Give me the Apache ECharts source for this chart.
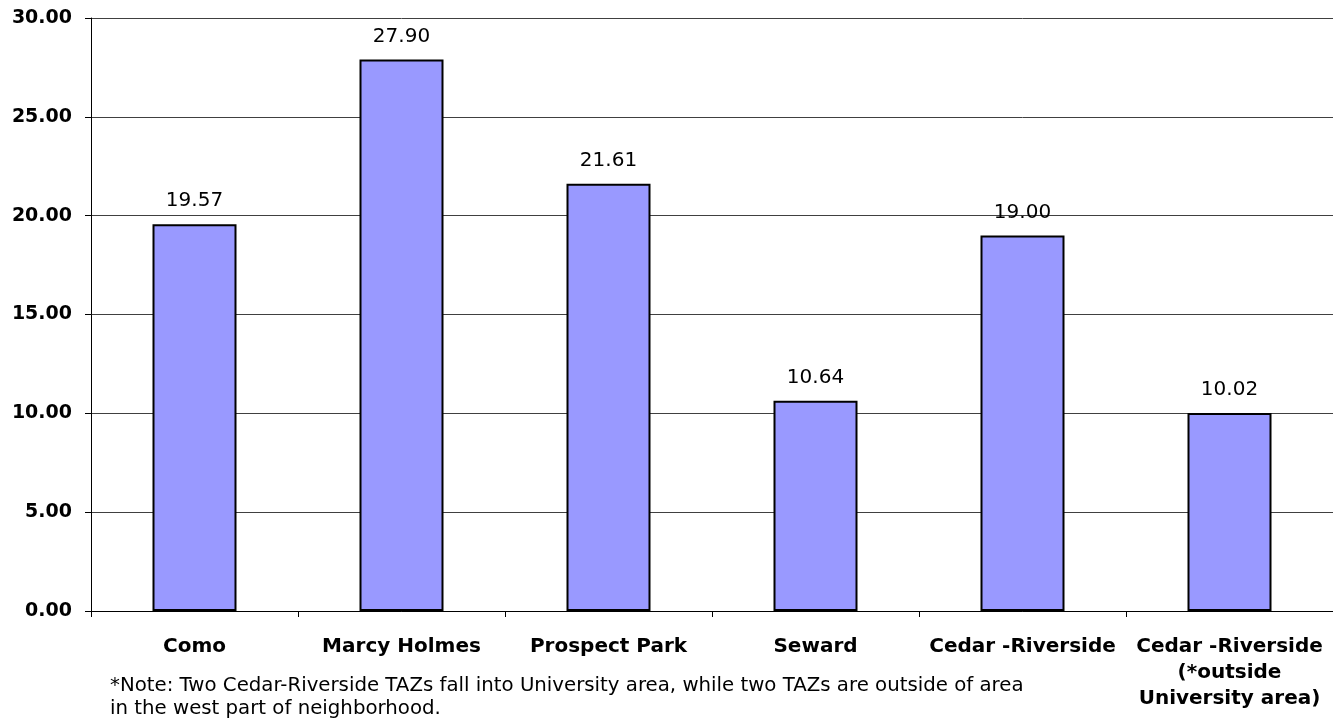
<!DOCTYPE html>
<html><head><meta charset="utf-8">
<script src="https://cdn.jsdelivr.net/npm/echarts@6/dist/echarts.min.js"></script>
<style>html,body{margin:0;padding:0;background:#fff}#c{width:1333px;height:723px}</style>
</head><body><div id="c"></div>
<script>
const categories = ['Como', 'Marcy Holmes', 'Prospect Park', 'Seward', 'Cedar -Riverside', 'Cedar -Riverside\n(*outside\nUniversity area)'];
const values = [19.57, 27.90, 21.61, 10.64, 19.00, 10.02];
const yTicks = [0, 5, 10, 15, 20, 25, 30];
const noteLines = ['*Note: Two Cedar-Riverside TAZs fall into University area, while two TAZs are outside of area', 'in the west part of neighborhood.'];

const chart = echarts.init(document.getElementById('c'));
const F = '"DejaVu Sans", Arial, sans-serif';
chart.setOption({
  animation: false,
  grid: { left: 91, right: -3, top: 18, bottom: 112, containLabel: false },
  xAxis: {
    type: 'category', data: categories,
    axisLine: { lineStyle: { color: '#000', width: 1 } },
    axisTick: { show: true, length: 6, lineStyle: { color: '#000' } },
    axisLabel: { color: '#000', fontFamily: F, fontWeight: 'bold', fontSize: 20, margin: 23, lineHeight: 26, verticalAlign: 'top', interval: 0 }
  },
  yAxis: {
    type: 'value', min: yTicks[0], max: yTicks[yTicks.length - 1], interval: 5,
    axisLine: { show: true, lineStyle: { color: '#000' } },
    axisTick: { show: true, inside: false, length: 6, lineStyle: { color: '#000' } },
    axisLabel: { color: '#000', fontFamily: F, fontWeight: 'bold', fontSize: 19, margin: 19, formatter: v => v.toFixed(2) },
    splitLine: { show: true, lineStyle: { color: '#404040', width: 1 } }
  },
  series: [{
    type: 'bar', data: values, barWidth: 84,
    itemStyle: { color: '#9999FF', borderColor: '#000', borderWidth: 2 },
    label: { show: true, position: 'top', distance: 13, color: '#000', fontFamily: F, fontSize: 20, formatter: p => p.value.toFixed(2) }
  }],
  graphic: [{
    type: 'text', left: 110, top: 674,
    style: { text: noteLines.join('\n'), font: '19.75px ' + F, fill: '#000', lineHeight: 23 }
  }]
});
</script></body></html>
